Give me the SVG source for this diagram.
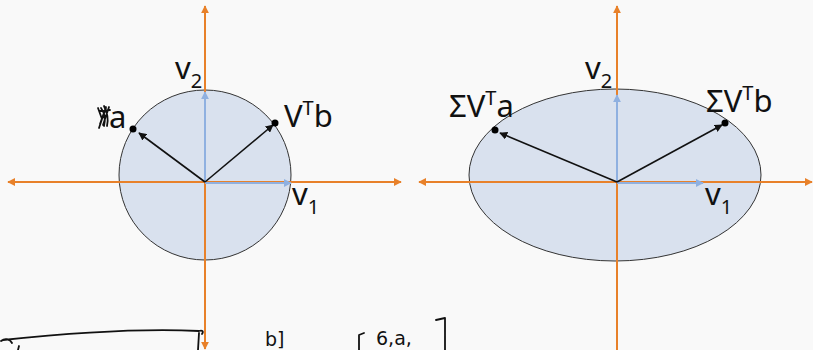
<svg xmlns="http://www.w3.org/2000/svg" width="813" height="350" viewBox="0 0 813 350">
<defs>
<marker id="ao" viewBox="0 0 10 10" refX="9" refY="5" markerWidth="4" markerHeight="4" orient="auto-start-reverse"><path d="M0,0 L10,5 L0,10 z" fill="#e8812a"/></marker>
<marker id="ab" viewBox="0 0 10 10" refX="9" refY="5" markerWidth="4" markerHeight="4" orient="auto"><path d="M0,0 L10,5 L0,10 z" fill="#8fb0e0"/></marker>
<marker id="ak" viewBox="0 0 10 10" refX="9" refY="5" markerWidth="5" markerHeight="5" orient="auto"><path d="M0,0 L10,5 L0,10 z" fill="#111"/></marker>
</defs>
<style>
.shape{fill:#d9e1ee;stroke:#333;stroke-width:1}
.ax{stroke:#e8812a;stroke-width:2;fill:none}
.bl{stroke:#8fb0e0;stroke-width:2;fill:none}
.vec{stroke:#111;stroke-width:1.6;fill:none}
.dot{fill:#000}
text{font-family:"Noto Sans","Open Sans",sans-serif;fill:#111}
.lb{font-size:31px}
.sub{font-size:20px}
.ink{stroke:#111;stroke-width:1.8;fill:none;stroke-linecap:round;stroke-linejoin:round}
.hw{font-family:"DejaVu Sans",sans-serif;font-size:19px}
</style>
<rect width="813" height="350" fill="#f9f9f9"/>
<g id="left-shape"><ellipse class="shape" cx="205" cy="175" rx="86" ry="85"/></g>
<g id="right-shape"><ellipse class="shape" cx="615" cy="175" rx="146" ry="86"/></g>
<g id="connectors">
<line class="ax" x1="205" y1="182" x2="8" y2="182" marker-end="url(#ao)"/>
<line class="ax" x1="205" y1="182" x2="401" y2="182" marker-end="url(#ao)"/>
<line class="ax" x1="205" y1="182" x2="205" y2="6" marker-end="url(#ao)"/>
<line class="ax" x1="205" y1="182" x2="205" y2="349" marker-end="url(#ao)"/>
<line class="ax" x1="617" y1="182" x2="419" y2="182" marker-end="url(#ao)"/>
<line class="ax" x1="617" y1="182" x2="812" y2="182" marker-end="url(#ao)"/>
<line class="ax" x1="617" y1="182" x2="617" y2="6" marker-end="url(#ao)"/>
<line class="ax" x1="617" y1="182" x2="617" y2="352"/>
<line class="bl" x1="205" y1="183" x2="291" y2="183" marker-end="url(#ab)"/>
<line class="bl" x1="205" y1="182" x2="205" y2="92" marker-end="url(#ab)"/>
<line class="bl" x1="617" y1="183" x2="703" y2="183" marker-end="url(#ab)"/>
<line class="bl" x1="617" y1="182" x2="617" y2="95" marker-end="url(#ab)"/>
<line class="vec" x1="205" y1="182" x2="139" y2="133" marker-end="url(#ak)"/>
<line class="vec" x1="205" y1="182" x2="273" y2="125" marker-end="url(#ak)"/>
<line class="vec" x1="617" y1="182" x2="500" y2="133" marker-end="url(#ak)"/>
<line class="vec" x1="617" y1="182" x2="722" y2="125" marker-end="url(#ak)"/>
</g>
<g id="points">
<circle class="dot" cx="133" cy="129" r="3.5"/>
<circle class="dot" cx="275" cy="123" r="3.5"/>
<circle class="dot" cx="495" cy="130" r="3.5"/>
<circle class="dot" cx="725" cy="123" r="3.5"/>
</g>
<g id="labels">
<text class="lb" x="175" y="79">v<tspan class="sub" dy="9">2</tspan></text>
<text class="lb" x="292" y="205">v<tspan class="sub" dy="9">1</tspan></text>
<text class="lb" x="284" y="127">V<tspan class="sub" dy="-12">T</tspan><tspan dy="12">b</tspan></text>
<text class="lb" x="109" y="128">a</text>
<path class="ink" d="M98,108 L102,119 L106,108 M102,119 L99,128 M101,108 C104,112 106,118 104,126 M104,106 C107,112 109,118 107,126 M106,107 L100,124 M109,107 L103,125 M100,111 L110,110"/>
<text class="lb" x="585" y="79">v<tspan class="sub" dy="9">2</tspan></text>
<text class="lb" x="705" y="205">v<tspan class="sub" dy="9">1</tspan></text>
<text class="lb" x="449" y="117">ΣV<tspan class="sub" dy="-12">T</tspan><tspan dy="12">a</tspan></text>
<text class="lb" x="706" y="112">ΣV<tspan class="sub" dy="-12">T</tspan><tspan dy="12">b</tspan></text>
</g>
<g id="handwriting">
<path class="ink" d="M1,341 C5,338 10,339 12,343 M3,340 C60,334 140,328 199,331 C202,330 204,331 202,334 M199,333 L198,350 M19,346 L18,350"/>
<text class="hw" x="265" y="346">b]</text>
<path class="ink" d="M364,333 L359,335 L359,350 M436,320 L445,318 L445,350"/>
<text class="hw" x="376" y="345">6,a,</text>
</g>
</svg>
